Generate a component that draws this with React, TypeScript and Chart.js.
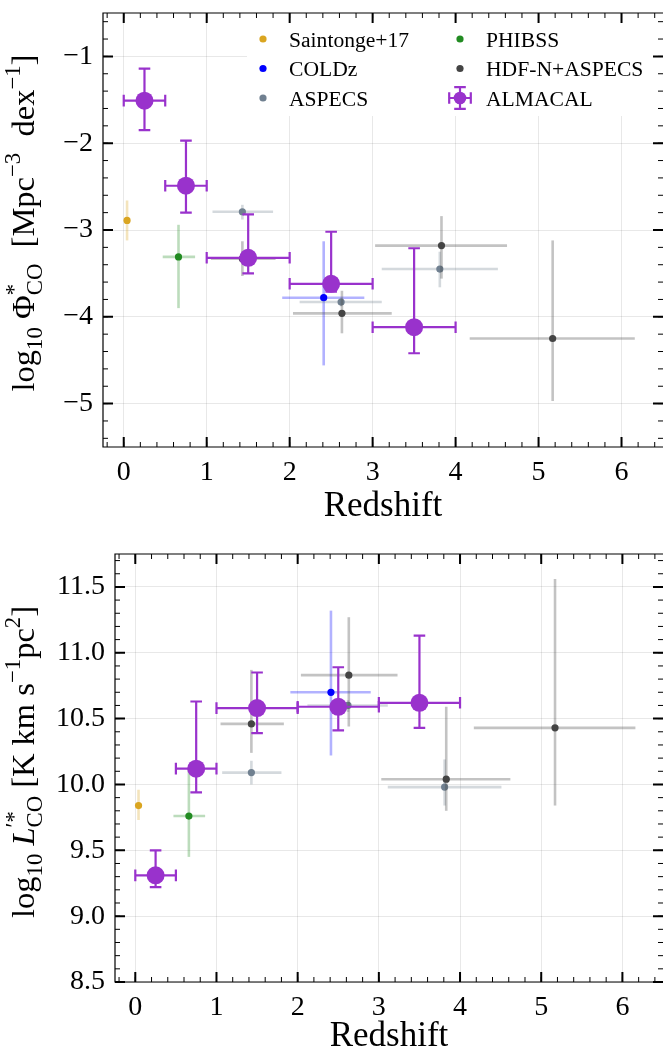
import React, { useEffect, useRef } from "react";
import { Chart, registerables } from "chart.js";

Chart.register(...registerables);

const FONT = "'Liberation Serif', 'DejaVu Serif', 'Times New Roman', serif";
const GRID = "rgba(0,0,0,0.09)";

// ---------- axis ticks ----------
const zTicks = [0, 1, 2, 3, 4, 5, 6];
const zTickLabels = ["0", "1", "2", "3", "4", "5", "6"];
const phiTicks = [-5, -4, -3, -2, -1];
const phiTickLabels = ["−5", "−4", "−3", "−2", "−1"];
const lumTicks = [8.5, 9, 9.5, 10, 10.5, 11, 11.5];
const lumTickLabels = ["8.5", "9.0", "9.5", "10.0", "10.5", "11.0", "11.5"];

// ---------- series ----------
const seriesNames = ["Saintonge+17", "COLDz", "ASPECS", "PHIBSS", "HDF-N+ASPECS", "ALMACAL"];

// Saintonge+17
const saintZ = [0.04];
const saintZLo = [0.04];
const saintZHi = [0.04];
const saintPhi = [-2.89];
const saintPhiHi = [-2.66];
const saintPhiLo = [-3.12];
const saintLum = [9.84];
const saintLumHi = [9.96];
const saintLumLo = [9.73];

// COLDz
const coldzZ = [2.41];
const coldzZLo = [1.91];
const coldzZHi = [2.9];
const coldzPhi = [-3.78];
const coldzPhiHi = [-3.13];
const coldzPhiLo = [-4.56];
const coldzLum = [10.7];
const coldzLumHi = [11.32];
const coldzLumLo = [10.22];

// ASPECS
const aspecsZ = [1.43, 2.62, 3.81];
const aspecsZLo = [1.07, 2.12, 3.11];
const aspecsZHi = [1.8, 3.11, 4.51];
const aspecsPhi = [-2.79, -3.83, -3.45];
const aspecsPhiHi = [-2.71, -3.78, -3.25];
const aspecsPhiLo = [-2.88, -3.88, -3.66];
const aspecsLum = [10.09, 10.6, 9.98];
const aspecsLumHi = [10.18, 10.64, 10.19];
const aspecsLumLo = [10.0, 10.55, 9.84];

// PHIBSS
const phibssZ = [0.66];
const phibssZLo = [0.47];
const phibssZHi = [0.86];
const phibssPhi = [-3.31];
const phibssPhiHi = [-2.94];
const phibssPhiLo = [-3.9];
const phibssLum = [9.76];
const phibssLumHi = [10.12];
const phibssLumLo = [9.45];

// HDF-N+ASPECS
const hdfnZ = [1.43, 2.63, 3.83, 5.17];
const hdfnZLo = [1.05, 2.04, 3.03, 4.17];
const hdfnZHi = [1.83, 3.23, 4.62, 6.16];
const hdfnPhi = [-3.33, -3.96, -3.18, -4.25];
const hdfnPhiHi = [-3.13, -3.7, -2.84, -3.12];
const hdfnPhiLo = [-3.53, -4.19, -3.56, -4.97];
const hdfnLum = [10.46, 10.83, 10.04, 10.43];
const hdfnLumHi = [10.87, 11.27, 10.59, 11.56];
const hdfnLumLo = [10.24, 10.44, 9.8, 9.84];

// ALMACAL
const almacalZ = [0.25, 0.75, 1.5, 2.5, 3.5];
const almacalZLo = [0, 0.5, 1, 2, 3];
const almacalZHi = [0.5, 1, 2, 3, 4];
const almacalPhi = [-1.51, -2.49, -3.32, -3.62, -4.12];
const almacalPhiHi = [-1.14, -1.97, -2.82, -3.02, -3.21];
const almacalPhiLo = [-1.85, -2.8, -3.5, -3.71, -4.42];
const almacalLum = [9.31, 10.12, 10.58, 10.59, 10.62];
const almacalLumHi = [9.5, 10.63, 10.85, 10.89, 11.13];
const almacalLumLo = [9.22, 9.94, 10.39, 10.41, 10.43];

// ---------- styles ----------
const styles = [
  { color: "#DAA520", err: "rgba(218,165,32,0.3)", r: 3.6, w: 2.6, cap: 0 },
  { color: "#0000FF", err: "rgba(0,0,255,0.3)", r: 3.6, w: 2.6, cap: 0 },
  { color: "#708090", err: "rgba(112,128,144,0.3)", r: 3.6, w: 2.6, cap: 0 },
  { color: "#228B22", err: "rgba(34,139,34,0.3)", r: 3.6, w: 2.6, cap: 0 },
  { color: "#444444", err: "rgba(68,68,68,0.32)", r: 3.6, w: 2.6, cap: 0 },
  { color: "#9932CC", err: "#9932CC", r: 9, w: 2.2, cap: 5.8 },
];

type Panel = "phi" | "lum";

function panelSeries(panel: Panel) {
  const p = panel === "phi";
  const raw = [
    [saintZ, saintZLo, saintZHi, p ? saintPhi : saintLum, p ? saintPhiLo : saintLumLo, p ? saintPhiHi : saintLumHi],
    [coldzZ, coldzZLo, coldzZHi, p ? coldzPhi : coldzLum, p ? coldzPhiLo : coldzLumLo, p ? coldzPhiHi : coldzLumHi],
    [aspecsZ, aspecsZLo, aspecsZHi, p ? aspecsPhi : aspecsLum, p ? aspecsPhiLo : aspecsLumLo, p ? aspecsPhiHi : aspecsLumHi],
    [phibssZ, phibssZLo, phibssZHi, p ? phibssPhi : phibssLum, p ? phibssPhiLo : phibssLumLo, p ? phibssPhiHi : phibssLumHi],
    [hdfnZ, hdfnZLo, hdfnZHi, p ? hdfnPhi : hdfnLum, p ? hdfnPhiLo : hdfnLumLo, p ? hdfnPhiHi : hdfnLumHi],
    [almacalZ, almacalZLo, almacalZHi, p ? almacalPhi : almacalLum, p ? almacalPhiLo : almacalLumLo, p ? almacalPhiHi : almacalLumHi],
  ];
  const datasets = raw.map((r, i) => {
    const [z, zLo, zHi, v, vLo, vHi] = r;
    const st = styles[i];
    return {
      label: seriesNames[i],
      data: z.map((zz, k) => ({ x: zz, y: v[k] })),
      pointRadius: st.r,
      pointHoverRadius: st.r,
      pointBackgroundColor: st.color,
      pointBorderWidth: 0,
      showLine: false,
      errBars: { xLo: zLo, xHi: zHi, yLo: vLo, yHi: vHi, color: st.err, width: st.w, cap: st.cap },
    };
  });
  // first dataset is drawn on top in Chart.js -> reverse so ALMACAL is on top
  return datasets.reverse();
}

// ---------- plugins ----------
const errorBarPlugin = {
  id: "errbars",
  beforeDatasetDraw(chart: any, args: any) {
    const ds: any = chart.data.datasets[args.index];
    const e = ds.errBars;
    if (!e) return;
    const xs = chart.scales.x;
    const ys = chart.scales.y;
    const ctx = chart.ctx;
    ctx.save();
    ctx.strokeStyle = e.color;
    ctx.lineWidth = e.width;
    ctx.lineCap = "butt";
    ds.data.forEach((p: any, i: number) => {
      const px = xs.getPixelForValue(p.x);
      const py = ys.getPixelForValue(p.y);
      const x0 = xs.getPixelForValue(e.xLo[i]);
      const x1 = xs.getPixelForValue(e.xHi[i]);
      const y0 = ys.getPixelForValue(e.yLo[i]);
      const y1 = ys.getPixelForValue(e.yHi[i]);
      if (Math.abs(x1 - x0) > 0.5) {
        ctx.beginPath();
        ctx.moveTo(x0, py);
        ctx.lineTo(x1, py);
        if (e.cap > 0) {
          ctx.moveTo(x0, py - e.cap);
          ctx.lineTo(x0, py + e.cap);
          ctx.moveTo(x1, py - e.cap);
          ctx.lineTo(x1, py + e.cap);
        }
        ctx.stroke();
      }
      ctx.beginPath();
      ctx.moveTo(px, y0);
      ctx.lineTo(px, y1);
      if (e.cap > 0) {
        ctx.moveTo(px - e.cap, y0);
        ctx.lineTo(px + e.cap, y0);
        ctx.moveTo(px - e.cap, y1);
        ctx.lineTo(px + e.cap, y1);
      }
      ctx.stroke();
    });
    ctx.restore();
  },
};

const framePlugin = {
  id: "frame",
  afterDraw(chart: any, _a: any, opts: any) {
    const { ctx, chartArea: a } = chart;
    const xs = chart.scales.x;
    const ys = chart.scales.y;
    ctx.save();
    ctx.strokeStyle = "#000";
    ctx.lineWidth = 1.2;
    ctx.beginPath();
    ctx.moveTo(a.right + 2, a.top);
    ctx.lineTo(a.left, a.top);
    ctx.lineTo(a.left, a.bottom);
    ctx.lineTo(a.right + 2, a.bottom);
    ctx.stroke();
    const tickSet = (vals: number[], len: number, w: number) => {
      ctx.lineWidth = w;
      ctx.beginPath();
      vals.forEach((v) => {
        const px = xs.getPixelForValue(v);
        if (px < a.left - 0.5 || px > a.right + 0.5) return;
        ctx.moveTo(px, a.bottom);
        ctx.lineTo(px, a.bottom - len);
        ctx.moveTo(px, a.top);
        ctx.lineTo(px, a.top + len);
      });
      ctx.stroke();
    };
    const tickSetY = (vals: number[], len: number, w: number) => {
      ctx.lineWidth = w;
      ctx.beginPath();
      vals.forEach((v) => {
        const py = ys.getPixelForValue(v);
        if (py < a.top - 0.5 || py > a.bottom + 0.5) return;
        ctx.moveTo(a.left, py);
        ctx.lineTo(a.left + len, py);
        ctx.moveTo(a.right, py);
        ctx.lineTo(a.right - len, py);
      });
      ctx.stroke();
    };
    const minorX: number[] = [];
    for (let k = Math.ceil(xs.min / opts.xMinor); k * opts.xMinor <= xs.max + 1e-9; k++) minorX.push(k * opts.xMinor);
    const minorY: number[] = [];
    for (let k = Math.ceil(ys.min / opts.yMinor - 1e-9); k * opts.yMinor <= ys.max + 1e-9; k++) minorY.push(k * opts.yMinor);
    tickSet(minorX, 5, 1);
    tickSetY(minorY, 5, 1);
    tickSet(opts.xMajor, 10, 2);
    tickSetY(opts.yMajor, 10, 2);
    ctx.restore();
  },
};

type Seg = { t?: string; s?: number; dy?: number; it?: boolean; stack?: Seg[] };

function fontFor(seg: Seg, F: number) {
  return `${seg.it ? "italic " : ""}${(F * (seg.s || 1)).toFixed(2)}px ${FONT}`;
}

function richWidth(ctx: CanvasRenderingContext2D, segs: Seg[], F: number) {
  let w = 0;
  segs.forEach((seg) => {
    if (seg.stack) {
      let m = 0;
      seg.stack.forEach((s) => {
        ctx.font = fontFor(s, F);
        m = Math.max(m, ctx.measureText(s.t || "").width);
      });
      w += m;
    } else {
      ctx.font = fontFor(seg, F);
      w += ctx.measureText(seg.t || "").width;
    }
  });
  return w;
}

function drawRich(ctx: CanvasRenderingContext2D, segs: Seg[], F: number, x0: number, base: number) {
  let x = x0;
  segs.forEach((seg) => {
    if (seg.stack) {
      let m = 0;
      seg.stack.forEach((s) => {
        ctx.font = fontFor(s, F);
        ctx.fillText(s.t || "", x, base + (s.dy || 0) * F);
        m = Math.max(m, ctx.measureText(s.t || "").width);
      });
      x += m;
    } else {
      ctx.font = fontFor(seg, F);
      ctx.fillText(seg.t || "", x, base + (seg.dy || 0) * F);
      x += ctx.measureText(seg.t || "").width;
    }
  });
}

const titlePlugin = {
  id: "titles",
  afterDraw(chart: any, _a: any, opts: any) {
    const { ctx, chartArea: a } = chart;
    ctx.save();
    ctx.fillStyle = "#000";
    ctx.textBaseline = "alphabetic";
    ctx.textAlign = "left";
    // x title
    ctx.font = `${opts.xSize}px ${FONT}`;
    const xw = ctx.measureText(opts.xTitle).width;
    ctx.fillText(opts.xTitle, (a.left + a.right) / 2 - xw / 2, opts.xBase);
    // y title (rotated rich text)
    const W = richWidth(ctx, opts.ySegs, opts.ySize);
    ctx.translate(opts.yBase, opts.yCenter);
    ctx.rotate(-Math.PI / 2);
    drawRich(ctx, opts.ySegs, opts.ySize, -W / 2, 0);
    ctx.restore();
  },
};

const legendPlugin = {
  id: "customLegend",
  beforeDatasetsDraw(chart: any, _a: any, opts: any) {
    if (!opts.show) return;
    const { ctx, chartArea: a } = chart;
    ctx.save();
    ctx.fillStyle = "#fff";
    ctx.fillRect(opts.box[0], a.top + 1, a.right - opts.box[0] + 2, opts.box[1] - a.top - 1);
    ctx.restore();
  },
  afterDraw(chart: any, _a: any, opts: any) {
    if (!opts.show) return;
    const ctx = chart.ctx;
    ctx.save();
    ctx.textBaseline = "alphabetic";
    ctx.textAlign = "left";
    ctx.font = `${opts.size}px ${FONT}`;
    seriesNames.forEach((name, i) => {
      const col = Math.floor(i / 3);
      const row = i % 3;
      const mx = opts.colX[col];
      const my = opts.rowY[row];
      const st = styles[i];
      if (st.cap > 0) {
        const L = 10.8;
        const c = 5.8;
        ctx.strokeStyle = st.color;
        ctx.lineWidth = 2.2;
        ctx.beginPath();
        ctx.moveTo(mx - L, my);
        ctx.lineTo(mx + L, my);
        ctx.moveTo(mx, my - L);
        ctx.lineTo(mx, my + L);
        ctx.moveTo(mx - L, my - c);
        ctx.lineTo(mx - L, my + c);
        ctx.moveTo(mx + L, my - c);
        ctx.lineTo(mx + L, my + c);
        ctx.moveTo(mx - c, my - L);
        ctx.lineTo(mx + c, my - L);
        ctx.moveTo(mx - c, my + L);
        ctx.lineTo(mx + c, my + L);
        ctx.stroke();
        ctx.fillStyle = st.color;
        ctx.beginPath();
        ctx.arc(mx, my, 6.3, 0, Math.PI * 2);
        ctx.fill();
      } else {
        ctx.fillStyle = st.color;
        ctx.beginPath();
        ctx.arc(mx, my, 3.6, 0, Math.PI * 2);
        ctx.fill();
      }
      ctx.fillStyle = "#000";
      ctx.fillText(name, mx + opts.textDx, my + opts.baseDy);
    });
    ctx.restore();
  },
};

// ---------- titles ----------
const phiTitle: Seg[] = [
  { t: "log" },
  { t: "10", s: 0.7, dy: 0.26 },
  { t: " Φ" },
  { stack: [{ t: "*", s: 0.7, dy: -0.4 }, { t: "CO", s: 0.7, dy: 0.26 }] },
  { t: "  [Mpc" },
  { t: "−3", s: 0.7, dy: -0.42 },
  { t: "  dex" },
  { t: "−1", s: 0.7, dy: -0.42 },
  { t: "]" },
];
const lumTitle: Seg[] = [
  { t: "log" },
  { t: "10", s: 0.7, dy: 0.26 },
  { t: " " },
  { t: "L", it: true },
  { stack: [{ t: "′*", s: 0.7, dy: -0.4 }, { t: "CO", s: 0.7, dy: 0.26 }] },
  { t: " [K km s" },
  { t: "−1", s: 0.7, dy: -0.42 },
  { t: "pc" },
  { t: "2", s: 0.7, dy: -0.42 },
  { t: "]" },
];

function makeConfig(panel: Panel, H: number): any {
  const p = panel === "phi";
  const areaTop = p ? 13 : 24;
  const areaBottom = p ? 447 : 452;
  const yW = p ? 103 : 115;
  const yT = p ? phiTicks : lumTicks;
  const yL = p ? phiTickLabels : lumTickLabels;
  return {
    type: "scatter",
    data: { datasets: panelSeries(panel) },
    plugins: [errorBarPlugin, legendPlugin, framePlugin, titlePlugin],
    options: {
      animation: false,
      responsive: false,
      devicePixelRatio: 1,
      events: [],
      layout: { autoPadding: false, padding: { top: areaTop, left: 0, right: 0, bottom: 0 } },
      scales: {
        x: {
          type: "linear",
          min: -0.25,
          max: 6.5,
          afterBuildTicks: (s: any) => {
            s.ticks = zTicks.map((v) => ({ value: v }));
          },
          afterFit: (s: any) => {
            s.height = H - areaBottom;
            s.paddingLeft = 0;
            s.paddingRight = 0;
            s.paddingTop = 0;
            s.paddingBottom = 0;
          },
          grid: { color: GRID, lineWidth: 1, drawTicks: false },
          border: { display: false },
          ticks: {
            color: "#000",
            font: { family: FONT, size: 28 },
            padding: 9,
            maxRotation: 0,
            minRotation: 0,
            autoSkip: false,
            callback: (v: number) => zTickLabels[zTicks.indexOf(v)],
          },
        },
        y: {
          type: "linear",
          min: p ? -5.5 : 8.5,
          max: p ? -0.5 : 11.75,
          afterBuildTicks: (s: any) => {
            s.ticks = yT.map((v) => ({ value: v }));
          },
          afterFit: (s: any) => {
            s.width = yW;
            s.paddingLeft = 0;
            s.paddingRight = 0;
            s.paddingTop = 0;
            s.paddingBottom = 0;
          },
          grid: { color: GRID, lineWidth: 1, drawTicks: false },
          border: { display: false },
          ticks: {
            color: "#000",
            font: { family: FONT, size: 28 },
            padding: 10,
            autoSkip: false,
            callback: (v: number) => yL[yT.indexOf(v)],
          },
        },
      },
      plugins: {
        legend: { display: false },
        tooltip: { enabled: false },
        frame: {
          xMajor: zTicks,
          yMajor: yT,
          xMinor: 0.2,
          yMinor: p ? 0.2 : 0.1,
        },
        titles: {
          xTitle: "Redshift",
          xSize: 35,
          xBase: 516,
          ySegs: p ? phiTitle : lumTitle,
          ySize: 32.5,
          yBase: 34,
          yCenter: p ? 223 : 232,
        },
        customLegend: {
          show: p,
          box: [247, 116],
          colX: [263, 460],
          rowY: [39, 68.5, 98],
          textDx: 26,
          baseDy: 7.5,
          size: 21.6,
        },
      },
    },
  };
}

function Panel({ panel, top, height }: { panel: Panel; top: number; height: number }) {
  const ref = useRef<HTMLCanvasElement>(null);
  useEffect(() => {
    const chart = new Chart(ref.current as HTMLCanvasElement, makeConfig(panel, height));
    return () => chart.destroy();
  }, [panel, height]);
  return (
    <canvas
      ref={ref}
      width={663}
      height={height}
      style={{ position: "absolute", left: 0, top, width: 663, height, display: "block" }}
    />
  );
}

export default function App() {
  return (
    <div
      style={{
        position: "absolute",
        left: 0,
        top: 0,
        width: 663,
        height: 1050,
        overflow: "hidden",
        background: "#fff",
      }}
    >
      <Panel panel="phi" top={0} height={530} />
      <Panel panel="lum" top={530} height={520} />
    </div>
  );
}
